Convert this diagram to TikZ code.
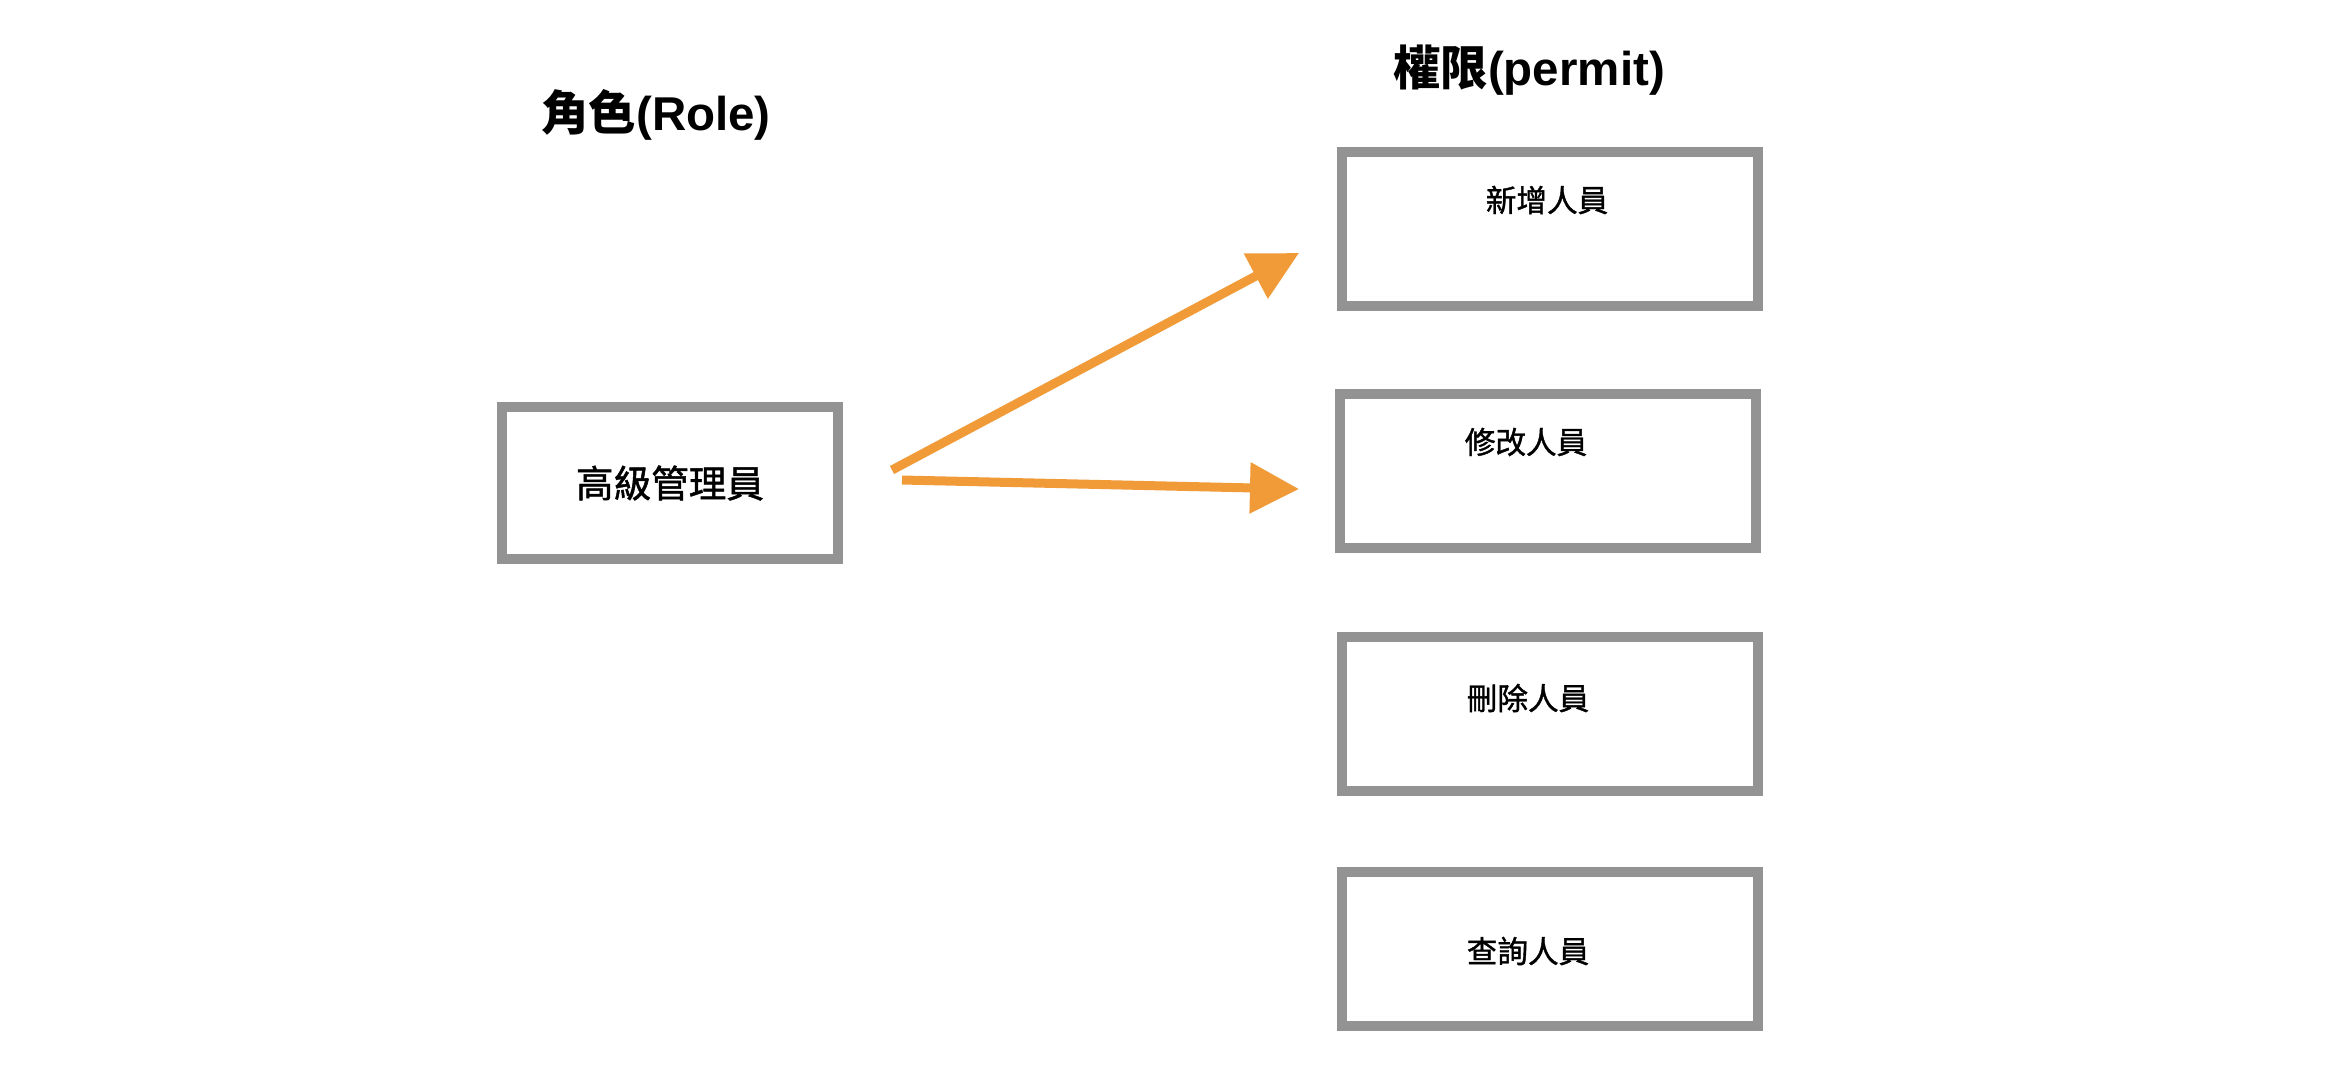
\documentclass[tikz,border=0pt]{standalone}
\usepackage{fontspec}
\usetikzlibrary{arrows.meta}
\newfontfamily\cjk{Noto Sans CJK TC}
\newfontfamily\cjkmid[FakeBold=1.3]{Noto Sans CJK TC}
\newfontfamily\lat{Liberation Sans}
\definecolor{boxgray}{RGB}{147,147,147}
\definecolor{linkorange}{RGB}{240,154,56}

\begin{document}
\begin{tikzpicture}[x=0.01cm, y=-0.01cm,
		rolebox/.style = {shape=rectangle, draw=boxgray, line width=0.1cm,
			minimum width=3.35cm, minimum height=1.51cm, inner sep=0pt,
			font=\cjkmid\fontsize{10.7}{13}\selectfont},
		permbox/.style = {shape=rectangle, draw=boxgray, line width=0.1cm,
			minimum width=4.15cm, minimum height=1.53cm, inner sep=0pt},
		permtext/.style = {font=\cjkmid\fontsize{8.7}{10}\selectfont, inner sep=0pt},
		heading/.style = {font=\bfseries\fontsize{13.5}{16}\selectfont, inner sep=0pt},
		link/.style = {draw=linkorange, line width=0.09cm,
			-{Triangle[length=0.49cm, width=0.49cm]}}]
		
		\useasboundingbox (0,0) rectangle (2328,1084);
		
		\node[heading] (roletitle) at (656,115) {{\cjk 角色}{\lat (Role)}};
		\node[heading] (permtitle) at (1529,70) {{\cjk 權限}{\lat (permit)}};
		
		\node[rolebox] (admin) at (670,483) {高級管理員};
		
		\node[permbox, label={[permtext, shift={(-3,-29)}]center:新增人員}] (add) at (1550,229) {};
		\node[permbox, label={[permtext, shift={(-22,-29)}]center:修改人員}] (edit) at (1548,471) {};
		\node[permbox, label={[permtext, shift={(-22,-16)}]center:刪除人員}] (del) at (1550,714) {};
		\node[permbox, label={[permtext, shift={(-22,2)}]center:查詢人員}] (query) at (1550,949) {};
		
		\coordinate (addfrom) at (892,470);
		\coordinate (addto) at (1299,253);
		\coordinate (editfrom) at (902,480);
		\coordinate (editto) at (1299,489);
		
		\draw[link] (addfrom) -- (addto);
		\draw[link] (editfrom) -- (editto);
	\end{tikzpicture}
\end{document}
